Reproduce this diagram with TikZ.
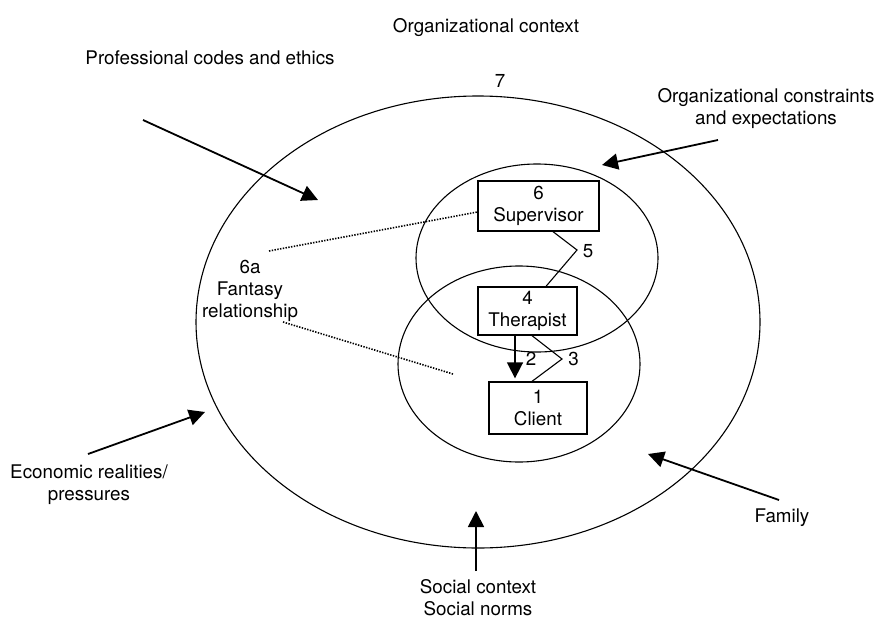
\documentclass[tikz,border=0pt]{standalone}
\usepackage{fontspec}
\setmainfont{TeX Gyre Heros}
\usetikzlibrary{arrows.meta,shapes.geometric,calc}

\begin{document}
\begin{tikzpicture}[x=1pt,y=-1pt,
  lbl/.style={font=\fontsize{18.8}{22}\selectfont, inner sep=0pt, align=center},
  ring/.style={draw, ellipse, line width=1.1pt, inner sep=0pt},
  rolebox/.style={draw, rectangle, line width=1.3pt, lbl},
  push/.style={line width=1.8pt, -{Triangle[length=16pt,width=16pt]}},
  link/.style={line width=1.1pt},
  fantasy/.style={line width=1.6pt, dash pattern=on 1.4pt off 1.4pt}]

\useasboundingbox (0,0) rectangle (877,621);

% nested contexts
\node[ring, minimum width=564pt, minimum height=452pt] (outer) at (478,322) {};
\node[ring, minimum width=242pt, minimum height=188pt] (upper) at (537,258) {};
\node[ring, minimum width=242pt, minimum height=196pt] (lower) at (519,364) {};

% roles
\node[rolebox, minimum width=121pt, minimum height=50pt] (sup) at (538.5,206) {6\\Supervisor};
\node[rolebox, minimum width=99pt, minimum height=48pt] (ther) at (527.5,311) {4\\Therapist};
\node[rolebox, minimum width=98pt, minimum height=52pt] (cli) at (538,408) {1\\Client};

% outer labels
\node[lbl, anchor=base] (orgctx) at (486,32) {Organizational context};
\node[lbl, anchor=base] (seven) at (500,87) {7};
\node[lbl, anchor=base] (codes) at (210,64) {Professional codes and ethics};
\node[lbl] (orgcon) at (766,109) {Organizational constraints\\and expectations};
\node[lbl] (econ) at (89,485) {Economic realities/\\pressures};
\node[lbl, anchor=base] (family) at (782,522) {Family};
\node[lbl] (social) at (478,598) {Social context\\Social norms};
\node[lbl] (fantasy) at (250,291) {6a\\Fantasy\\relationship};

% influences pressing inward
\coordinate (codesA) at (143,120);  \coordinate (codesB) at (318,200);
\coordinate (orgconA) at (718,140); \coordinate (orgconB) at (602,165);
\coordinate (econA) at (88,454);    \coordinate (econB) at (205,412);
\coordinate (famA) at (779,500);    \coordinate (famB) at (648,454);
\coordinate (socA) at (476,571);    \coordinate (socB) at (476,511);
\draw[push] (codesA) -- (codesB);
\draw[push] (orgconA) -- (orgconB);
\draw[push] (econA) -- (econB);
\draw[push] (famA) -- (famB);
\draw[push] (socA) -- (socB);

% relationships between roles
\coordinate (bend5) at (577,250);
\coordinate (bend3) at (562,359);
\draw[link] ([xshift=14.5pt]sup.south) -- (bend5) -- ([xshift=18.5pt]ther.north);
\draw[link] ([xshift=4.5pt]ther.south) -- (bend3) -- ([xshift=-6pt]cli.north);
\draw[line width=1.6pt, -{Triangle[length=16pt,width=16pt]}]
  ([xshift=-12.5pt]ther.south) -- ([xshift=-23pt,yshift=3pt]cli.north);
\node[lbl] (n5) at (588,251) {5};
\node[lbl] (n2) at (531,359) {2};
\node[lbl] (n3) at (573.5,359) {3};

% fantasy relationship
\coordinate (fa1) at (269,251);
\coordinate (fa2) at (283,322);
\coordinate (fa2end) at (453,374);
\draw[fantasy] (fa1) -- ([yshift=-6pt]sup.west);
\draw[fantasy] (fa2) -- (fa2end);
\end{tikzpicture}
\end{document}
